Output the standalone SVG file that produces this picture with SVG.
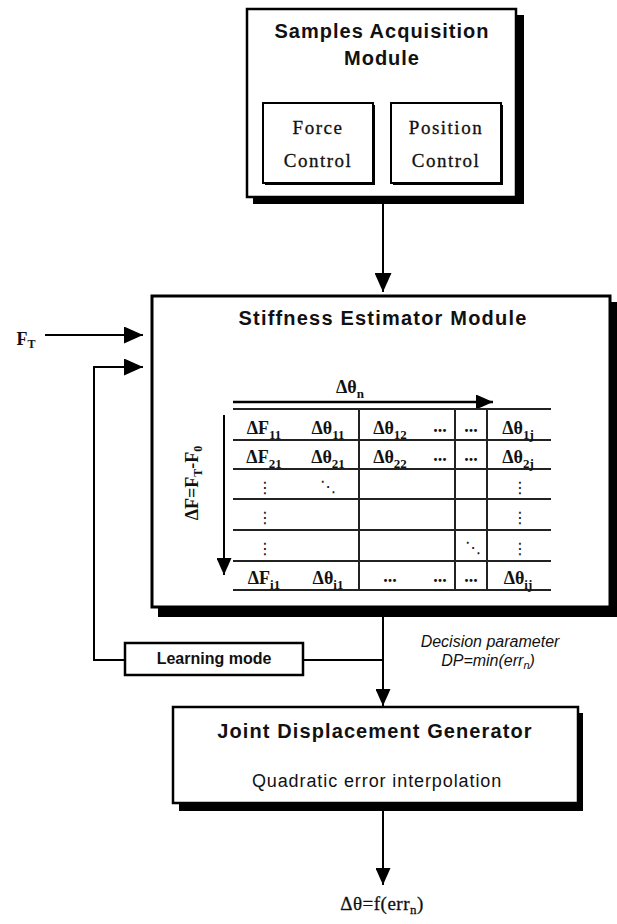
<svg xmlns="http://www.w3.org/2000/svg" width="617" height="924" viewBox="0 0 617 924">
<defs>
<style>
.box{fill:#fff;stroke:#000;stroke-width:2.5}
.shadow{fill:#000}
.ln{stroke:#000;stroke-width:2;fill:none}
.tl{stroke:#222;stroke-width:2;fill:none}
.title{font-family:"Liberation Sans",Arial,sans-serif;font-weight:bold;font-size:20px;text-anchor:middle;fill:#111}
.sub{font-family:"Liberation Sans",Arial,sans-serif;font-size:18px;text-anchor:middle;fill:#111}
.ser{font-family:"Liberation Serif","Times New Roman",serif;font-size:19px;text-anchor:middle;fill:#111;letter-spacing:1.5px;stroke:#111;stroke-width:0.3}
.cell{font-family:"Liberation Serif","Times New Roman",serif;font-weight:bold;font-size:18px;text-anchor:middle;fill:#111}
.dots{font-family:"DejaVu Sans",sans-serif;font-size:16px;text-anchor:middle;fill:#111}
.it{font-family:"Liberation Sans",Arial,sans-serif;font-style:italic;font-size:16px;text-anchor:middle;fill:#111}
</style>
<marker id="ah" markerUnits="userSpaceOnUse" markerWidth="19" markerHeight="17" refX="19" refY="8.5" orient="auto">
<path d="M0,0 L19,8.5 L0,17 z" fill="#000"/>
</marker>
<marker id="as" markerUnits="userSpaceOnUse" markerWidth="17" markerHeight="15" refX="17" refY="7.5" orient="auto">
<path d="M0,0 L17,7.5 L0,15 z" fill="#000"/>
</marker>
</defs>
<rect width="617" height="924" fill="#fff"/>

<g id="samples-acquisition">
<rect class="shadow" x="253" y="15" width="271" height="189"/>
<rect class="box" x="247" y="9" width="269" height="188"/>
<text class="title" x="382" y="38" letter-spacing="1">Samples Acquisition</text>
<text class="title" x="382" y="65" letter-spacing="1">Module</text>
<g id="force-control">
<rect class="shadow" x="265" y="105" width="110" height="80"/>
<rect class="box" style="stroke-width:2" x="263" y="103" width="110" height="80"/>
<text class="ser" x="318" y="134">Force</text>
<text class="ser" x="318" y="167">Control</text>
</g>
<g id="position-control">
<rect class="shadow" x="393" y="105" width="110" height="80"/>
<rect class="box" style="stroke-width:2" x="391" y="103" width="110" height="80"/>
<text class="ser" x="446" y="134">Position</text>
<text class="ser" x="446" y="167">Control</text>
</g>
</g>

<g id="stiffness-estimator">
<rect class="shadow" x="158" y="302" width="459" height="315"/>
<rect class="box" style="stroke-width:3" x="152" y="296" width="458" height="311"/>
<text class="title" x="383" y="325" letter-spacing="1.2">Stiffness Estimator Module</text>
<g id="table">
<line class="ln" x1="233" y1="402" x2="493" y2="402" marker-end="url(#as)" style="stroke-width:2.5"/>
<text class="cell" x="350" y="393">Δθ<tspan font-size="13" dy="5">n</tspan></text>
<line class="ln" x1="224" y1="415" x2="224" y2="575" marker-end="url(#as)"/>
<text class="cell" font-size="17" transform="translate(198,483) rotate(-90)" x="0" y="0">ΔF=F<tspan font-size="12" dy="4">T</tspan><tspan dy="-4">-F</tspan><tspan font-size="12" dy="4">0</tspan></text>
<g class="tl">
<line x1="233" y1="409" x2="551" y2="409"/>
<line x1="233" y1="440" x2="551" y2="440"/>
<line x1="233" y1="469" x2="551" y2="469"/>
<line x1="233" y1="499" x2="551" y2="499"/>
<line x1="233" y1="530" x2="551" y2="530"/>
<line x1="233" y1="561" x2="551" y2="561"/>
<line x1="233" y1="590" x2="551" y2="590"/>
<line x1="359" y1="409" x2="359" y2="590"/>
<line x1="455" y1="409" x2="455" y2="590"/>
<line x1="487" y1="409" x2="487" y2="590"/>
</g>
<text class="cell" x="264" y="434">ΔF<tspan font-size="13" dy="5">11</tspan></text>
<text class="cell" x="328" y="434">Δθ<tspan font-size="13" dy="5">11</tspan></text>
<text class="cell" x="390" y="434">Δθ<tspan font-size="13" dy="5">12</tspan></text>
<text class="cell" x="440" y="432">...</text>
<text class="cell" x="471" y="432">...</text>
<text class="cell" x="518" y="434">Δθ<tspan font-size="13" dy="5">1j</tspan></text>

<text class="cell" x="264" y="463">ΔF<tspan font-size="13" dy="5">21</tspan></text>
<text class="cell" x="328" y="463">Δθ<tspan font-size="13" dy="5">21</tspan></text>
<text class="cell" x="390" y="463">Δθ<tspan font-size="13" dy="5">22</tspan></text>
<text class="cell" x="440" y="461">...</text>
<text class="cell" x="471" y="461">...</text>
<text class="cell" x="518" y="463">Δθ<tspan font-size="13" dy="5">2j</tspan></text>

<text class="dots" x="265" y="493">⋮</text>
<text class="dots" x="328" y="492">⋱</text>
<text class="dots" x="520" y="493">⋮</text>
<text class="dots" x="265" y="523">⋮</text>
<text class="dots" x="520" y="523">⋮</text>
<text class="dots" x="265" y="554">⋮</text>
<text class="dots" x="473" y="553">⋱</text>
<text class="dots" x="520" y="554">⋮</text>

<text class="cell" x="264" y="584">ΔF<tspan font-size="13" dy="5">i1</tspan></text>
<text class="cell" x="328" y="584">Δθ<tspan font-size="13" dy="5">i1</tspan></text>
<text class="cell" x="390" y="582">...</text>
<text class="cell" x="440" y="582">...</text>
<text class="cell" x="471" y="582">...</text>
<text class="cell" x="518" y="584">Δθ<tspan font-size="13" dy="5">ij</tspan></text>
</g>
</g>

<g id="learning-mode">
<rect class="box" style="stroke-width:2.5" x="125" y="643" width="178" height="32"/>
<text class="title" style="font-size:16px" x="214" y="664">Learning mode</text>
</g>

<g id="joint-displacement">
<rect class="shadow" x="179" y="713" width="404" height="98"/>
<rect class="box" x="173" y="707" width="405" height="96"/>
<text class="title" x="375" y="738" letter-spacing="1.1">Joint Displacement Generator</text>
<text class="sub" x="377" y="787" letter-spacing="0.9">Quadratic error interpolation</text>
</g>

<g id="connectors">
<line class="ln" x1="383" y1="204" x2="383" y2="292" marker-end="url(#ah)"/>
<line class="ln" x1="45" y1="335" x2="143" y2="335" marker-end="url(#ah)"/>
<polyline class="ln" points="125,660 94,660 94,367 143,367" marker-end="url(#ah)"/>
<line class="ln" x1="303" y1="660" x2="383" y2="660"/>
<line class="ln" x1="383" y1="617" x2="383" y2="706" marker-end="url(#as)"/>
<line class="ln" x1="383" y1="811" x2="383" y2="885" marker-end="url(#as)"/>
</g>

<g id="labels">
<text class="cell" x="26" y="345">F<tspan font-size="12" dy="3">T</tspan></text>
<text class="it" x="490" y="647">Decision parameter</text>
<text class="it" x="488" y="666">DP=min(err<tspan font-size="11" dy="3">n</tspan><tspan dy="-3">)</tspan></text>
<text class="ser" style="letter-spacing:0.5px;font-size:19px" x="382" y="910">Δθ=f(err<tspan font-size="13" dy="4">n</tspan><tspan dy="-4">)</tspan></text>
</g>
</svg>
